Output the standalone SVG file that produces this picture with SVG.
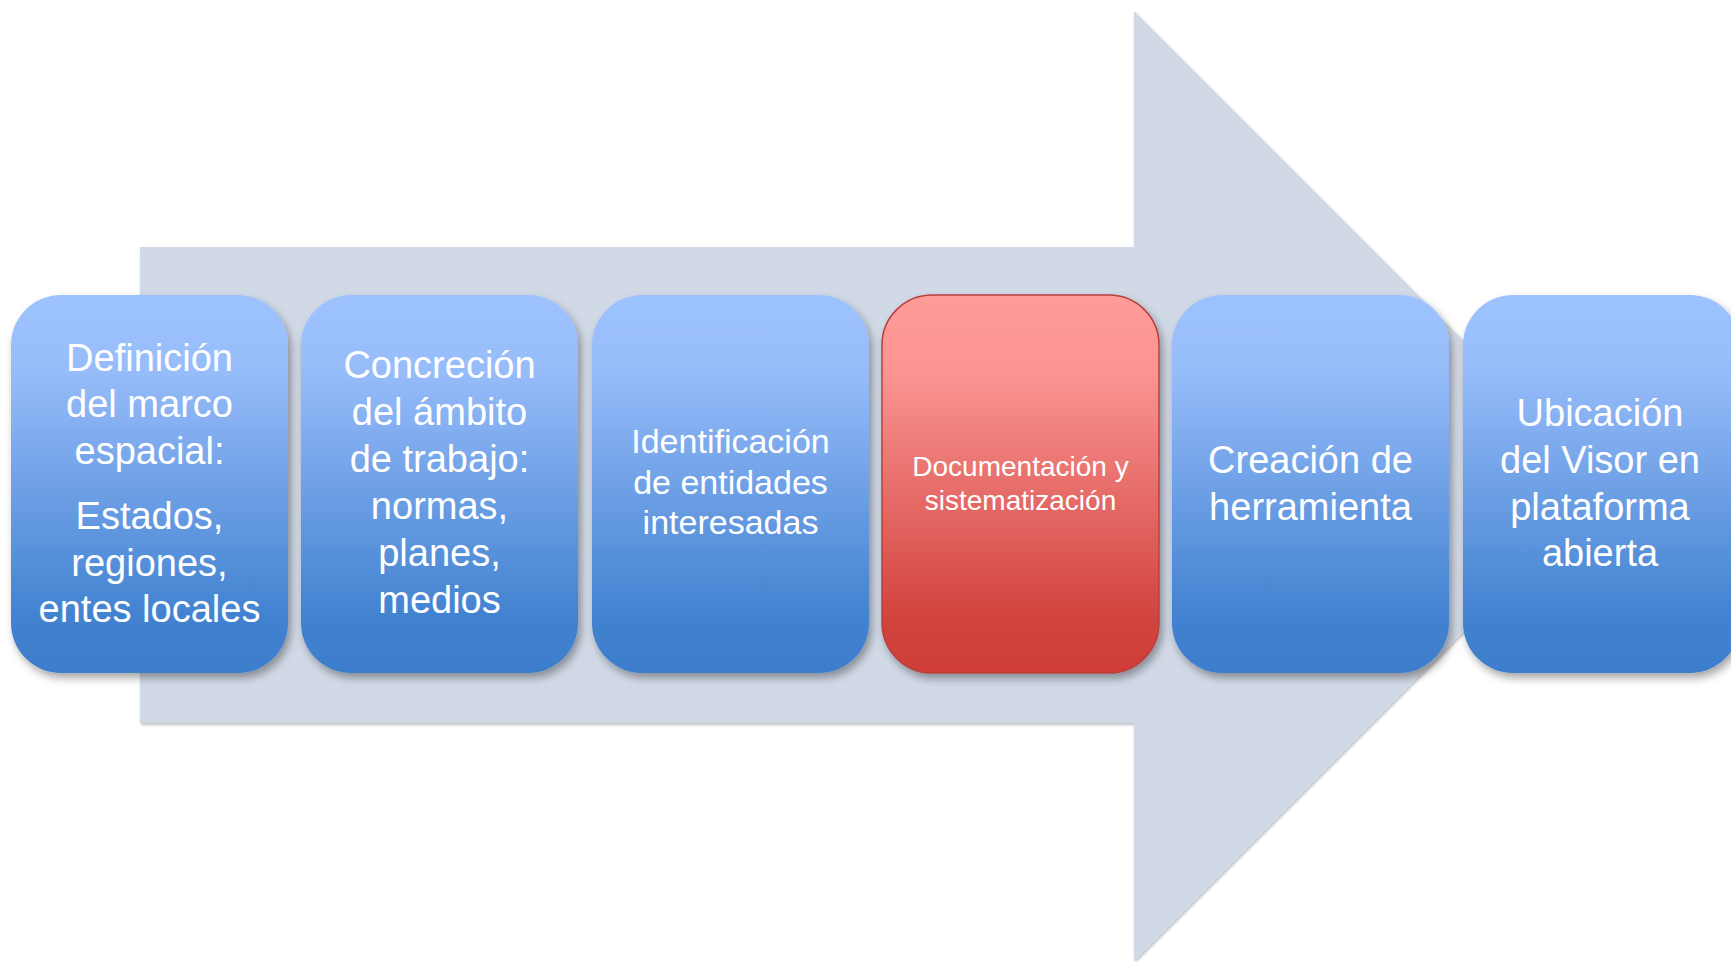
<svg xmlns="http://www.w3.org/2000/svg" width="1731" height="962" viewBox="0 0 1731 962">
  <defs>
    <linearGradient id="gBlue" x1="0" y1="0" x2="0" y2="1">
      <stop offset="0" stop-color="#9DC3FF"/>
      <stop offset="0.2" stop-color="#97BCFA"/>
      <stop offset="0.85" stop-color="#4282D0"/>
      <stop offset="1" stop-color="#3D7ECB"/>
    </linearGradient>
    <linearGradient id="gRed" x1="0" y1="0" x2="0" y2="1">
      <stop offset="0" stop-color="#FF9B99"/>
      <stop offset="0.2" stop-color="#FA9592"/>
      <stop offset="0.85" stop-color="#D2443F"/>
      <stop offset="1" stop-color="#CF3D39"/>
    </linearGradient>
    <filter id="shadow" x="-10%" y="-10%" width="130%" height="130%">
      <feDropShadow dx="3" dy="5" stdDeviation="4" flood-color="#000" flood-opacity="0.35"/>
    </filter>
    <filter id="arrowShadow" x="-5%" y="-5%" width="110%" height="110%">
      <feDropShadow dx="1" dy="2" stdDeviation="1.5" flood-color="#000" flood-opacity="0.25"/>
    </filter>
  </defs>
  <style>
    .box { fill: url(#gBlue); filter: url(#shadow); }
    .boxRed { fill: url(#gRed); stroke: #B8403C; stroke-width: 1.5; filter: url(#shadow); }
    .t { font-family: "Liberation Sans", Arial, sans-serif; fill: #FFFFFF; text-anchor: middle; }
    .big { font-size: 38px; }
    .mid { font-size: 34px; }
    .small { font-size: 28px; }
  </style>
  <rect width="1731" height="962" fill="#FFFFFF"/>

  <g id="background-arrow">
    <polygon points="140,247 1134,247 1134,11 1609,486 1134,961 1134,723 140,723" fill="#D1D9E7" filter="url(#arrowShadow)"/>
  </g>

  <g id="node1">
    <rect class="box" x="11" y="295" width="277" height="378" rx="50" ry="50"/>
    <text class="t big" x="149.5" y="371">Definición</text>
    <text class="t big" x="149.5" y="417">del marco</text>
    <text class="t big" x="149.5" y="464">espacial:</text>
    <text class="t big" x="149.5" y="529">Estados,</text>
    <text class="t big" x="149.5" y="576">regiones,</text>
    <text class="t big" x="149.5" y="622">entes locales</text>
  </g>

  <g id="node2">
    <rect class="box" x="301" y="295" width="277" height="378" rx="50" ry="50"/>
    <text class="t big" x="439.5" y="378">Concreción</text>
    <text class="t big" x="439.5" y="425">del ámbito</text>
    <text class="t big" x="439.5" y="472">de trabajo:</text>
    <text class="t big" x="439.5" y="519">normas,</text>
    <text class="t big" x="439.5" y="566">planes,</text>
    <text class="t big" x="439.5" y="613">medios</text>
  </g>

  <g id="node3">
    <rect class="box" x="592" y="295" width="277" height="378" rx="50" ry="50"/>
    <text class="t mid" x="730.5" y="453">Identificación</text>
    <text class="t mid" x="730.5" y="494">de entidades</text>
    <text class="t mid" x="730.5" y="534">interesadas</text>
  </g>

  <g id="node4">
    <rect class="boxRed" x="882" y="295" width="277" height="378" rx="50" ry="50"/>
    <text class="t small" x="1020.5" y="476">Documentación y</text>
    <text class="t small" x="1020.5" y="510">sistematización</text>
  </g>

  <g id="node5">
    <rect class="box" x="1172" y="295" width="277" height="378" rx="50" ry="50"/>
    <text class="t big" x="1310.5" y="473">Creación de</text>
    <text class="t big" x="1310.5" y="520">herramienta</text>
  </g>

  <g id="node6">
    <rect class="box" x="1463" y="295" width="277" height="378" rx="50" ry="50"/>
    <text class="t big" x="1600" y="426">Ubicación</text>
    <text class="t big" x="1600" y="473">del Visor en</text>
    <text class="t big" x="1600" y="520">plataforma</text>
    <text class="t big" x="1600" y="566">abierta</text>
  </g>
</svg>
